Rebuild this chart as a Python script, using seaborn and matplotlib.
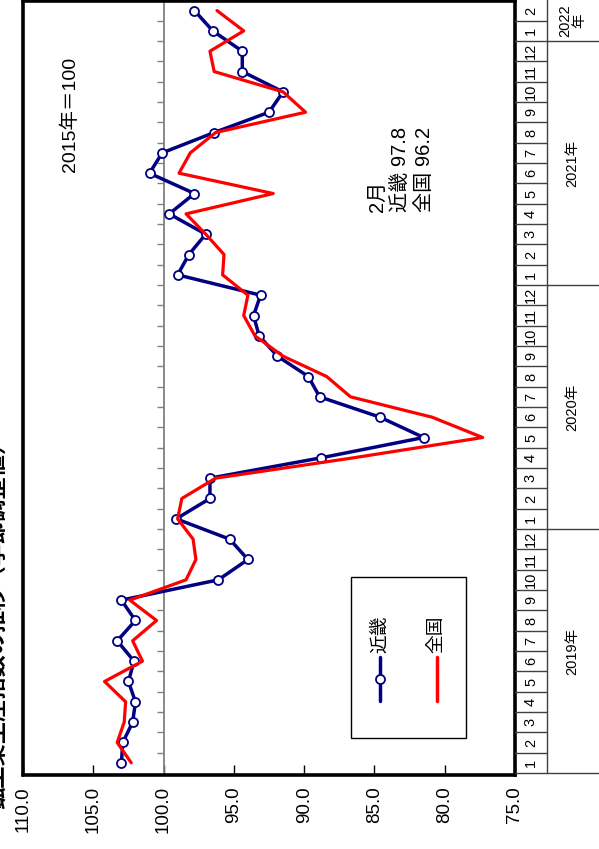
import numpy as np
import pandas as pd
import matplotlib
matplotlib.use("Agg")
import matplotlib.pyplot as plt
import seaborn as sns
from matplotlib.patches import Rectangle
from matplotlib.lines import Line2D

# ── data (2019/1 .. 2022/2, 2015年=100) ──────────────────────
months = [1, 2, 3, 4, 5, 6, 7, 8, 9, 10, 11, 12] * 3 + [1, 2]
years = ["2019年", "2020年", "2021年", "2022\n年"]
kinki = [103.0, 102.9, 102.2, 102.0, 102.5, 102.1, 103.3, 102.0, 103.0, 96.1,
         94.0, 95.3, 99.1, 96.7, 96.7, 88.8, 81.5, 84.6, 88.9, 89.7,
         91.9, 93.2, 93.6, 93.1, 99.0, 98.2, 97.0, 99.6, 97.8, 101.0,
         100.1, 96.4, 92.5, 91.5, 94.4, 94.4, 96.5, 97.8]
zenkoku = [102.3, 103.3, 102.8, 102.7, 104.2, 101.5, 102.2, 100.5, 102.4, 98.4,
           97.7, 97.9, 99.0, 98.7, 96.3, 86.5, 77.3, 80.9, 86.7, 88.4,
           91.5, 93.5, 94.3, 94.0, 95.8, 95.7, 97.0, 98.4, 92.2, 98.9,
           98.1, 96.3, 89.9, 91.5, 96.4, 96.7, 94.3, 96.2]
value_ticks = [110, 105, 100, 95, 90, 85, 80, 75]

df = pd.DataFrame({"t": np.arange(len(months)), "近畿": kinki, "全国": zenkoku})

sns.set_theme(style="white")
plt.rcParams["font.family"] = ["Liberation Sans", "Noto Sans CJK JP", "DejaVu Sans"]
plt.rcParams["text.color"] = "black"
plt.rcParams["xtick.color"] = "black"
plt.rcParams["xtick.labelcolor"] = "black"

NAVY = "#000080"
RED = "#ff0000"

fig = plt.figure(figsize=(5.99, 8.49), dpi=100)
W, H = 599, 849
bot, top = 74 / H, 848 / H
ax = fig.add_axes([23 / W, bot, (515 - 23) / W, top - bot])

# ── series (chart is drawn rotated: time runs upward) ───────
sns.lineplot(data=df, x="近畿", y="t", orient="y", sort=False, ax=ax,
             color=NAVY, lw=2.5, marker="o", markersize=6.5,
             markerfacecolor="white", markeredgecolor=NAVY,
             markeredgewidth=1.3, legend=False, zorder=3)
sns.lineplot(data=df, x="全国", y="t", orient="y", sort=False, ax=ax,
             color=RED, lw=2.3, legend=False, zorder=4)

ax.set_xlim(110, 75)
ax.set_ylim(-0.6, 37.47)
ax.set_xlabel("")
ax.set_ylabel("")

ax.set_xticks(value_ticks)
ax.set_xticklabels([f"{v:.1f}" for v in value_ticks], rotation=90, fontsize=13.5)
ax.tick_params(axis="x", direction="in", length=7, width=1, color="black",
               pad=8, bottom=True)

# 100 baseline with month ticks
ax.spines["left"].set_position(("data", 100))
ax.spines["left"].set_color("#808080")
ax.spines["left"].set_linewidth(1.3)
ax.set_yticks(np.arange(len(months) - 1) + 0.5)
ax.tick_params(axis="y", direction="out", length=5, width=1, color="#808080",
               labelleft=False, left=True)
for s in ["top", "right", "bottom"]:
    ax.spines[s].set_color("black")
    ax.spines[s].set_linewidth(2.6)
ax.axvline(110, color="black", lw=2.6, clip_on=False)

# ── annotations ─────────────────────────────────────────────
ax.text(0.0955, 0.854, "2015年＝100", transform=ax.transAxes, rotation=90,
        ha="center", va="center", fontsize=14)
ax.text(0.768, 0.727, f"2月\n近畿 {kinki[-1]:.1f}\n全国 {zenkoku[-1]:.1f}",
        transform=ax.transAxes, rotation=90, ha="center", va="bottom",
        multialignment="left", fontsize=14.5, linespacing=1.3)

# manual rotated legend
ax.add_patch(Rectangle((0.6667, 0.0478), 0.2337, 0.2084, transform=ax.transAxes,
                       fill=True, facecolor="white", edgecolor="black", lw=1,
                       zorder=5))
for xf, col, lab, mk in [(0.7256, NAVY, "近畿", "o"), (0.8415, RED, "全国", None)]:
    ax.add_line(Line2D([xf, xf], [0.0956, 0.1525], transform=ax.transAxes,
                       color=col, lw=2.5, zorder=6))
    if mk:
        ax.add_line(Line2D([xf], [0.124], transform=ax.transAxes, marker="o",
                           markersize=6.5, markerfacecolor="white",
                           markeredgecolor=NAVY, markeredgewidth=1.3, zorder=7))
    ax.text(xf, 0.158, lab, transform=ax.transAxes, rotation=90, ha="center",
            va="bottom", fontsize=13.5, zorder=7)

# ── month / year category axis on the right ─────────────────
ax2 = fig.add_axes([515 / W, bot, (W - 515) / W, top - bot])
ax2.set_xlim(0, 1)
ax2.set_ylim(ax.get_ylim())
ax2.axis("off")
xsep = (547 - 515) / (W - 515)
n = len(months)
for b in np.arange(n) - 0.5:
    full = (b == -0.5) or (months[int(b + 0.5)] == 1)
    ax2.plot([0, 1 if full else xsep], [b, b], color="#404040", lw=1,
             clip_on=False)
ax2.plot([xsep, xsep], [-0.5, n], color="#404040", lw=1, clip_on=False)
for i, m in enumerate(months):
    ax2.text(0.19, i, str(m), rotation=90, ha="center", va="center",
             fontsize=10.5)
starts = [i for i, m in enumerate(months) if m == 1]
for k, yl in enumerate(years):
    s = starts[k]
    e = starts[k + 1] - 1 if k + 1 < len(starts) else n - 1
    ax2.text(0.68, (s + e) / 2, yl, rotation=90, ha="center", va="center",
             fontsize=10.5, linespacing=1.0)

# title (cut by the page edge in the source)
fig.text(-0.004, 0.27, "鉱工業生産指数の推移（季節調整値）", rotation=90,
         ha="center", va="center", fontsize=16, fontweight="bold")

fig.savefig("out.png", dpi=100)
